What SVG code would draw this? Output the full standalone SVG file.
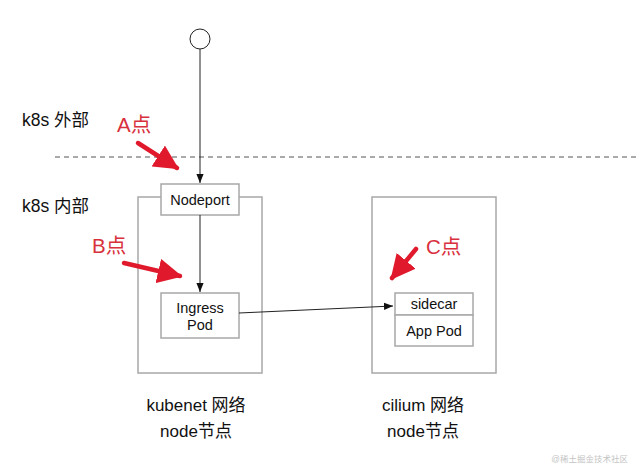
<svg xmlns="http://www.w3.org/2000/svg" width="640" height="476" viewBox="0 0 640 476">
<defs>
<style>
.box{fill:#fff;stroke:#a8a8a8;stroke-width:1.5}
.t{font-family:"Liberation Sans","Noto Sans CJK SC",sans-serif;fill:#111}
.red{font-family:"Liberation Sans","Noto Sans CJK SC",sans-serif;fill:#d8303c;font-size:20.5px}
.ln{stroke:#222;stroke-width:1;fill:none}
.ra{stroke:#e0192c;stroke-width:4.5;fill:none;stroke-linecap:round}
</style>
<marker id="ah" viewBox="0 0 10 10" refX="10" refY="5" markerWidth="9" markerHeight="9" markerUnits="userSpaceOnUse" orient="auto">
<path d="M0,1 L10,5 L0,9 Z" fill="#111"/>
</marker>
<marker id="rh" viewBox="0 0 10 10" refX="9" refY="5" markerWidth="5.5" markerHeight="5.5" orient="auto">
<path d="M0,0 L10,5 L0,10 Z" fill="#e0192c"/>
</marker>
</defs>
<rect width="640" height="476" fill="#fff"/>

<g id="boundary">
<line x1="55" y1="157" x2="640" y2="157" stroke="#555" stroke-width="1" stroke-dasharray="5,4"/>
<text class="t" x="22" y="126" font-size="17.5">k8s 外部</text>
<text class="t" x="22" y="212" font-size="17.5">k8s 内部</text>
</g>

<g id="kubenet-node">
<rect class="box" x="138" y="197" width="124" height="176"/>
<text class="t" x="196" y="411" font-size="17" text-anchor="middle">kubenet 网络</text>
<text class="t" x="196" y="437" font-size="17" text-anchor="middle">node节点</text>
</g>

<g id="cilium-node">
<rect class="box" x="372" y="197" width="124" height="176"/>
<text class="t" x="423" y="411" font-size="17" text-anchor="middle">cilium 网络</text>
<text class="t" x="423" y="437" font-size="17" text-anchor="middle">node节点</text>
</g>

<g id="client">
<circle cx="200" cy="39" r="10" fill="#fff" stroke="#222" stroke-width="1"/>
</g>

<g id="nodeport">
<rect class="box" x="161" y="184" width="78" height="31"/>
<text class="t" x="200" y="205" font-size="14.5" text-anchor="middle">Nodeport</text>
</g>

<g id="ingress-pod">
<rect class="box" x="161" y="293" width="78" height="45"/>
<text class="t" x="200" y="313" font-size="14.5" text-anchor="middle">Ingress</text>
<text class="t" x="200" y="330" font-size="14.5" text-anchor="middle">Pod</text>
</g>

<g id="app-pod">
<rect class="box" x="395" y="293" width="78" height="22"/>
<rect class="box" x="395" y="315" width="78" height="31"/>
<text class="t" x="434" y="309" font-size="14.5" text-anchor="middle">sidecar</text>
<text class="t" x="434" y="336" font-size="14.5" text-anchor="middle">App Pod</text>
</g>

<g id="connectors">
<line class="ln" x1="200" y1="49" x2="200" y2="183" marker-end="url(#ah)"/>
<line class="ln" x1="200" y1="215" x2="200" y2="292" marker-end="url(#ah)"/>
<line class="ln" x1="239" y1="313" x2="393" y2="306" marker-end="url(#ah)"/>
</g>

<g id="point-a">
<text class="red" x="117" y="132">A点</text>
<line class="ra" x1="138" y1="143" x2="177" y2="168" marker-end="url(#rh)"/>
</g>
<g id="point-b">
<text class="red" x="92" y="253">B点</text>
<line class="ra" x1="124" y1="263" x2="180" y2="276" marker-end="url(#rh)"/>
</g>
<g id="point-c">
<text class="red" x="426" y="254">C点</text>
<line class="ra" x1="416" y1="249" x2="392" y2="278" marker-end="url(#rh)"/>
</g>

<text x="628" y="462" font-family="Liberation Sans,Noto Sans CJK SC,sans-serif" font-size="8.5" fill="#c4c4c4" text-anchor="end">@稀土掘金技术社区</text>
</svg>
